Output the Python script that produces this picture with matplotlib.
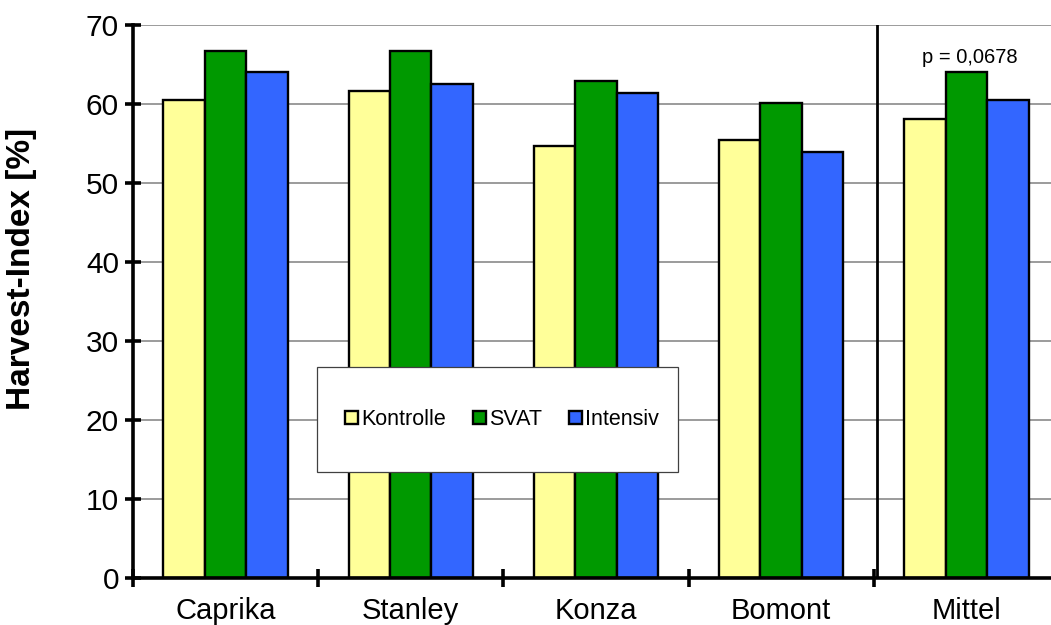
import numpy as np
import matplotlib.pyplot as plt
from matplotlib.patches import Rectangle

plt.rcParams['font.family'] = ['Liberation Sans', 'DejaVu Sans']

# Harvest index per cultivar and treatment
cultivars = ["Caprika", "Stanley", "Konza", "Bomont", "Mittel"]
treatments = ["Kontrolle", "SVAT", "Intensiv"]
kontrolle = [60.5, 61.6, 54.7, 55.5, 58.1]
svat = [66.7, 66.7, 62.9, 60.1, 64.1]
intensiv = [64.1, 62.5, 61.4, 53.9, 60.5]
p_label = "p = 0,0678"

colors = ["#FFFF99", "#009900", "#3366FF"]

fig = plt.figure(figsize=(10.51, 6.25), dpi=100)
ax = fig.add_axes([0.1265, 0.0752, 0.881, 0.8848])

x = np.arange(len(cultivars))
w = 0.224
for i, (vals, col, name) in enumerate(zip([kontrolle, svat, intensiv], colors, treatments)):
    ax.bar(x + (i - 1) * w, vals, width=w, color=col, edgecolor="black",
           linewidth=1.7, label=name, zorder=3)

ax.set_xlim(-0.5, 4.5)
ax.set_ylim(0, 70)

# grid and spines
ax.set_yticks(np.arange(0, 71, 10))
ax.yaxis.grid(True, color="#808080", linewidth=1.1, zorder=0)
ax.set_axisbelow(True)
for s in ["top", "right"]:
    ax.spines[s].set_visible(False)
for s in ["left", "bottom"]:
    ax.spines[s].set_linewidth(2.6)
    ax.spines[s].set_zorder(4)

ax.tick_params(axis="y", direction="inout", length=12, width=2.6,
               labelsize=21.5, pad=4)
ax.set_xticks(np.arange(-0.5, 4.0, 1.0))
ax.set_xticklabels([])
ax.set_xticks(x, minor=True)
ax.set_xticklabels(cultivars, minor=True)
ax.tick_params(axis="x", which="major", direction="inout", length=13, width=2.6)
ax.tick_params(axis="x", which="minor", length=0, labelsize=21, pad=14)

ax.set_ylabel("Harvest-Index [%]", fontsize=24, fontweight="bold")
ax.yaxis.set_label_coords(-0.104, 0.559)

# divider before the mean
ax.axvline(3.52, color="black", linewidth=2, zorder=4)
ax.text(4.02, 65.2, p_label, ha="center", va="baseline", fontsize=14.5)

# legend box
ax.add_patch(Rectangle((0.1987, 0.1917), 0.3898, 0.1899, transform=ax.transAxes,
                       facecolor="white", edgecolor="#404040", linewidth=0.9,
                       zorder=6))
leg = ax.legend(loc="center", bbox_to_anchor=(0.3985, 0.2866), ncol=3,
                frameon=False, fontsize=15.5, handlelength=0.6, handleheight=0.6,
                handletextpad=0.15, columnspacing=1.25)
leg.set_zorder(7)

fig.savefig("out.png", dpi=100)
